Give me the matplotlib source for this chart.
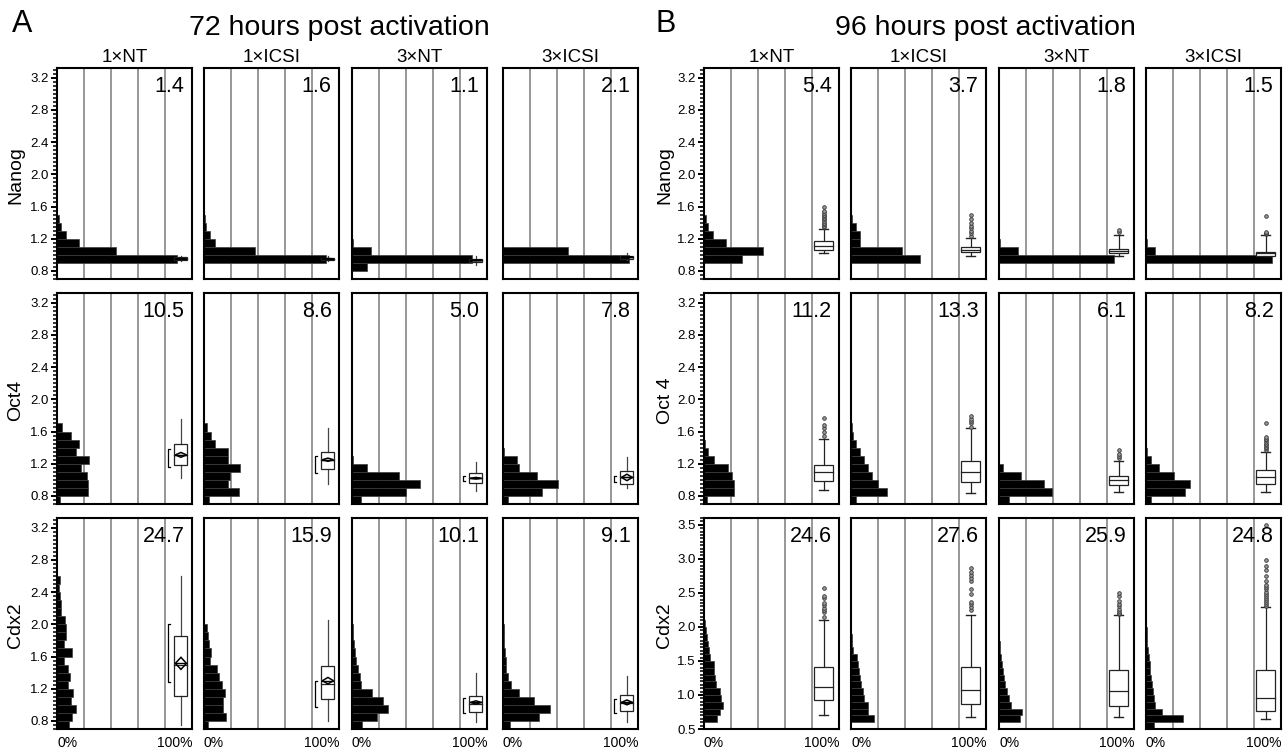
import numpy as np
import matplotlib
matplotlib.use('Agg')
import matplotlib.pyplot as plt
from matplotlib.patches import Rectangle, Polygon
from matplotlib.ticker import MultipleLocator, FormatStrFormatter

plt.rcParams['font.family'] = ['Liberation Sans', 'DejaVu Sans']

groups = ['1×NT', '1×ICSI', '3×NT', '3×ICSI']
genes_72 = ['Nanog', 'Oct4', 'Cdx2']
genes_96 = ['Nanog', 'Oct 4', 'Cdx2']

# numbers in the upper right corner of each cell
cv_72 = [[1.4, 1.6, 1.1, 2.1], [10.5, 8.6, 5.0, 7.8], [24.7, 15.9, 10.1, 9.1]]
cv_96 = [[5.4, 3.7, 1.8, 1.5], [11.2, 13.3, 6.1, 8.2], [24.6, 27.6, 25.9, 24.8]]

# histograms: (lower edge of first bin, bar lengths in % from bottom bin up), bins 0.1 wide
hist_72_nanog = [(0.9, [89, 44, 16, 7, 3, 1.5]),
                 (0.9, [90, 38, 8, 4.5, 1.5, 1]),
                 (0.8, [11, 89, 14, 1]),
                 (0.9, [93, 48])]
hist_72_oct4 = [(0.7, [2, 23, 23, 22, 18, 24, 14, 16, 10, 4]),
                (0.7, [4, 26, 18, 19, 27, 18, 18, 8, 5, 2]),
                (0.7, [7, 40, 50, 35, 11, 1]),
                (0.7, [3.5, 29, 41, 25, 12, 10, 0.5])]
hist_72_cdx2 = [(0.7, [9, 11.4, 13.9, 10.7, 11.9, 8.2, 9.4, 8.2, 5.2, 11.4, 5.2, 6.9, 6.5, 5.7, 3.2, 2.7, 2, 1.5, 2]),
                (0.7, [3, 16, 14, 14, 15.5, 13, 11, 9.5, 4.5, 5, 4, 3, 2]),
                (0.7, [7.7, 18.6, 27, 22.6, 15, 7, 5.7, 4.5, 3, 2, 1.2, 0.7, 0.5, 0.3]),
                (0.7, [5, 27, 34.7, 22.8, 11.6, 6, 3.5, 2.5, 2, 1.5, 1, 0.7, 0.5, 0.3])]

hist_96_nanog = [(0.9, [28, 44, 16, 6.4, 3, 1.2]),
                 (0.9, [51, 38, 7, 7, 3.7, 1]),
                 (0.9, [85, 14.4, 1]),
                 (0.9, [93, 7, 0.5])]
hist_96_oct4 = [(0.7, [2, 22, 22, 21, 18, 7.4, 3, 1]),
                (0.7, [3.7, 26.6, 19.7, 15.4, 12.9, 9.7, 6.7, 3.7, 1.5, 0.5]),
                (0.7, [7.5, 39, 33, 16, 3]),
                (0.7, [3.5, 29, 32.5, 20.6, 9.4, 3.7, 0.5])]
hist_96_cdx2 = [(0.6, [9.9, 11.9, 13.8, 12.3, 11.9, 8.9, 8.1, 7.4, 7.4, 4.4, 4, 3.2, 2, 1.2, 0.7]),
                (0.6, [16.7, 12.4, 12.9, 9.7, 8.7, 7.2, 6.7, 6.2, 5.5, 4.2, 1.7, 1, 0.5]),
                (0.6, [15.7, 16.9, 9, 7.7, 5.7, 4.5, 3.7, 2.7, 2, 1.2, 0.7, 0.4]),
                (0.5, [5.7, 27.3, 11.9, 7, 5.7, 5.2, 4.5, 3.7, 3.2, 2.7, 2, 1.5, 1, 0.7, 0.4])]

# 72 h box plots: (whisker lo, q1, median, q3, whisker hi)
box_72_nanog = [(0.92, 0.93, 0.95, 0.97, 0.99), (0.92, 0.935, 0.95, 0.965, 0.98),
                (0.88, 0.91, 0.93, 0.95, 0.98), (0.94, 0.95, 0.97, 0.99, 1.02)]
box_72_oct4 = [(1.02, 1.19, 1.31, 1.45, 1.75), (0.95, 1.14, 1.25, 1.35, 1.64),
               (0.86, 0.96, 1.02, 1.08, 1.22), (0.90, 0.95, 1.03, 1.11, 1.28)]
box_72_cdx2 = [(0.75, 1.11, 1.50, 1.855, 2.6), (0.80, 1.07, 1.26, 1.48, 2.05),
               (0.79, 0.91, 1.01, 1.11, 1.39), (0.79, 0.92, 1.02, 1.12, 1.36)]
# means diamonds: (mean, lower, upper)
mean_72_nanog = [(0.95, 0.945, 0.955), (0.95, 0.945, 0.955), (0.93, 0.925, 0.935), (0.97, 0.965, 0.975)]
mean_72_oct4 = [(1.31, 1.28, 1.34), (1.25, 1.23, 1.27), (1.02, 1.01, 1.03), (1.03, 0.99, 1.07)]
mean_72_cdx2 = [(1.515, 1.44, 1.59), (1.30, 1.26, 1.34), (1.03, 1.01, 1.05), (1.03, 1.00, 1.06)]
# shortest half brackets
half_72_nanog = [(0.93, 0.96), (0.93, 0.96), (0.91, 0.94), (0.95, 0.98)]
half_72_oct4 = [(1.16, 1.38), (1.09, 1.30), (0.98, 1.05), (0.97, 1.05)]
half_72_cdx2 = [(1.28, 2.0), (0.97, 1.30), (0.90, 1.09), (0.90, 1.07)]

# 96 h outlier box plots
box_96_nanog = [(1.02, 1.06, 1.11, 1.17, 1.32), (0.98, 1.03, 1.06, 1.10, 1.21),
                (0.99, 1.02, 1.045, 1.07, 1.25), (0.98, 0.99, 1.02, 1.04, 1.25)]
box_96_oct4 = [(0.87, 0.98, 1.10, 1.19, 1.51), (0.84, 0.97, 1.10, 1.235, 1.64),
               (0.85, 0.93, 0.996, 1.05, 1.24), (0.85, 0.95, 1.04, 1.12, 1.35)]
box_96_cdx2 = [(0.71, 0.93, 1.12, 1.41, 2.10), (0.67, 0.86, 1.08, 1.41, 2.18),
               (0.67, 0.84, 1.06, 1.36, 2.17), (0.64, 0.76, 0.96, 1.37, 2.29)]
out_96_nanog = [[1.34, 1.36, 1.38, 1.40, 1.42, 1.44, 1.46, 1.48, 1.50, 1.52, 1.55, 1.59],
                [1.24, 1.27, 1.30, 1.33, 1.36, 1.40, 1.45, 1.49],
                [1.28, 1.31],
                [1.26, 1.27, 1.28, 1.48]]
out_96_oct4 = [[1.55, 1.60, 1.64, 1.68, 1.77],
               [1.66, 1.70, 1.73, 1.76, 1.79],
               [1.27, 1.29, 1.32, 1.37],
               [1.37, 1.39, 1.41, 1.43, 1.45, 1.47, 1.49, 1.51, 1.53, 1.70]]
out_96_cdx2 = [[2.15, 2.22, 2.25, 2.28, 2.32, 2.35, 2.42, 2.45, 2.57],
               [2.25, 2.29, 2.33, 2.36, 2.48, 2.55, 2.68, 2.72, 2.76, 2.80, 2.86],
               [2.19, 2.21, 2.24, 2.27, 2.30, 2.34, 2.38, 2.45, 2.50],
               [2.31, 2.34, 2.37, 2.40, 2.43, 2.46, 2.49, 2.52, 2.55, 2.58, 2.62, 2.68,
                2.75, 2.83, 2.90, 2.98, 3.5]]

W, H = 1288, 753
fig = plt.figure(figsize=(W / 100, H / 100), dpi=100)

col_left = [[57, 204, 352, 503], [704, 851, 999, 1146]]
col_w = 135
row_top = [68, 293, 518]
row_h = 211


def new_ax(px, py):
    return fig.add_axes([px / W, 1 - (py + row_h) / H, col_w / W, row_h / H])


def style_ax(ax, ylim, major, first_col, bottom_row):
    ax.set_xlim(0, 100)
    ax.set_ylim(*ylim)
    ax.set_xticks([20, 40, 60, 80])
    ax.grid(axis='x', color='#8f8f8f', lw=1.3)
    ax.set_axisbelow(True)
    ax.tick_params(axis='x', bottom=False, labelbottom=False)
    for s in ax.spines.values():
        s.set_linewidth(1.5)
    if first_col:
        ax.yaxis.set_major_locator(MultipleLocator(major))
        ax.yaxis.set_minor_locator(MultipleLocator(0.05))
        ax.yaxis.set_major_formatter(FormatStrFormatter('%.1f'))
        ax.tick_params(axis='y', which='major', length=4.5, width=1.4, labelsize=9.5, pad=1.5)
        ax.tick_params(axis='y', which='minor', length=3, width=1.1)
    else:
        ax.tick_params(axis='y', which='both', left=False, labelleft=False)
    if bottom_row:
        ax.text(0, -0.035, '0%', transform=ax.transAxes, ha='left', va='top', fontsize=10)
        ax.text(1.005, -0.035, '100%', transform=ax.transAxes, ha='right', va='top', fontsize=10)


def draw_hist(ax, start, vals):
    ys = [start + 0.1 * i for i in range(len(vals))]
    ax.barh(ys, vals, height=0.1, align='edge', color='black', edgecolor='#3c3c3c', lw=0.5, zorder=2)


def draw_box72(ax, st, mn, half):
    lo, q1, med, q3, hi = st
    cx, hw = 91.8, 4.8
    ax.plot([cx, cx], [lo, q1], color='#444444', lw=0.9, zorder=3)
    ax.plot([cx, cx], [q3, hi], color='#444444', lw=0.9, zorder=3)
    ax.add_patch(Rectangle((cx - hw, q1), 2 * hw, q3 - q1, fill=False, ec='#222222', lw=0.9, zorder=3))
    ax.plot([cx - hw, cx + hw], [med, med], color='#222222', lw=0.9, zorder=3)
    m, m_lo, m_hi = mn
    dw = hw * 0.85
    ax.add_patch(Polygon([(cx - dw, m), (cx, m_hi), (cx + dw, m), (cx, m_lo)], closed=True,
                         fill=False, ec='black', lw=1.1, zorder=4))
    ax.plot([cx - dw, cx + dw], [m, m], color='black', lw=1.0, zorder=4)
    bx = 82.5
    b_lo, b_hi = half
    ax.plot([bx + 1.5, bx, bx, bx + 1.5], [b_lo, b_lo, b_hi, b_hi], color='black', lw=0.9, zorder=3)


def draw_box96(ax, st, outs):
    lo, q1, med, q3, hi = st
    cx, hw, cw = 88.7, 7.1, 3.4
    ax.plot([cx, cx], [lo, q1], color='#222222', lw=0.9, zorder=3)
    ax.plot([cx, cx], [q3, hi], color='#222222', lw=0.9, zorder=3)
    ax.plot([cx - cw, cx + cw], [lo, lo], color='#222222', lw=1.0, zorder=3)
    ax.plot([cx - cw, cx + cw], [hi, hi], color='#222222', lw=1.0, zorder=3)
    ax.add_patch(Rectangle((cx - hw, q1), 2 * hw, q3 - q1, facecolor='white', ec='#222222', lw=0.9, zorder=3))
    ax.plot([cx - hw, cx + hw], [med, med], color='#222222', lw=0.9, zorder=4)
    ax.plot([cx] * len(outs), outs, 'o', ms=2.6, mfc='#9a9a9a', mec='#333333', mew=0.6, zorder=4)


hists_72 = [hist_72_nanog, hist_72_oct4, hist_72_cdx2]
boxes_72 = [box_72_nanog, box_72_oct4, box_72_cdx2]
means_72 = [mean_72_nanog, mean_72_oct4, mean_72_cdx2]
halves_72 = [half_72_nanog, half_72_oct4, half_72_cdx2]
hists_96 = [hist_96_nanog, hist_96_oct4, hist_96_cdx2]
boxes_96 = [box_96_nanog, box_96_oct4, box_96_cdx2]
outs_96 = [out_96_nanog, out_96_oct4, out_96_cdx2]

for p in range(2):
    for r in range(3):
        for c in range(4):
            ax = new_ax(col_left[p][c], row_top[r])
            if p == 1 and r == 2:
                style_ax(ax, (0.5, 3.6), 0.5, c == 0, True)
            else:
                style_ax(ax, (0.7, 3.32), 0.4, c == 0, r == 2)
            if p == 0:
                start, vals = hists_72[r][c]
                draw_hist(ax, start, vals)
                draw_box72(ax, boxes_72[r][c], means_72[r][c], halves_72[r][c])
                num = cv_72[r][c]
            else:
                start, vals = hists_96[r][c]
                draw_hist(ax, start, vals)
                draw_box96(ax, boxes_96[r][c], outs_96[r][c])
                num = cv_96[r][c]
            ax.text(0.945, 0.885, f'{num:.1f}', transform=ax.transAxes, ha='right',
                    va='baseline', fontsize=15.5, zorder=5)
            if r == 0:
                ax.text(0.5, 1.03, groups[c], transform=ax.transAxes, ha='center',
                        va='baseline', fontsize=13.5)
        genes = genes_72 if p == 0 else genes_96
        xlab = 15.7 if p == 0 else 665
        fig.text(xlab / W, 1 - (row_top[r] + row_h / 2 + 2) / H, genes[r], rotation=90,
                 ha='center', va='center', fontsize=14)

fig.text(12 / W, 1 - 32 / H, 'A', fontsize=22, va='baseline')
fig.text(655 / W, 1 - 32 / H, 'B', fontsize=22, va='baseline')
fig.text(339 / W, 1 - 35 / H, '72 hours post activation', fontsize=20.5, ha='center', va='baseline')
fig.text(985 / W, 1 - 35 / H, '96 hours post activation', fontsize=20.5, ha='center', va='baseline')

fig.savefig('out.png', dpi=100)
